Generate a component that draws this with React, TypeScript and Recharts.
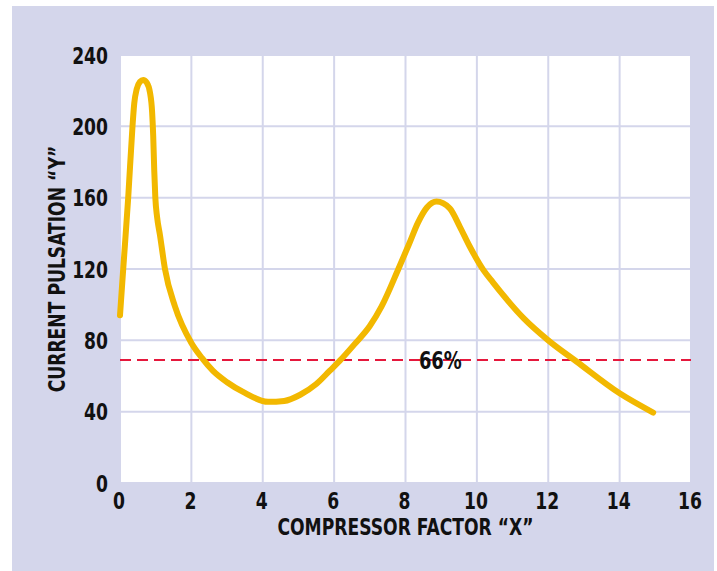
import { LineChart, Line, XAxis, YAxis, CartesianGrid, ReferenceLine, Label } from 'recharts'

const compressorFactor = [
  0, 0.09, 0.23, 0.35, 0.4, 0.47, 0.56, 0.65, 0.75, 0.84, 0.9, 0.93, 0.96, 0.99, 1.04, 1.12, 1.26, 1.54,
  2.0, 2.3, 2.6, 3.0, 3.5, 4.15, 4.6, 5.05, 5.5, 5.88, 6.16, 6.58, 7.0, 7.33, 7.8, 8.1, 8.35, 8.6, 8.87,
  9.24, 9.52, 9.8, 10.18, 10.45, 11.3, 12.0, 12.8, 14.0, 14.94,
]
const currentPulsation = [
  94, 120, 160, 200, 213, 221, 225, 226, 224.5, 219, 208, 195, 175, 160, 149, 139, 120, 99,
  78.5, 70, 63, 56.5, 50.5, 45.5, 46, 49.5, 55.5, 63, 68.6, 78, 88, 99, 120, 134, 146, 154.5, 157.8,
  154, 143.8, 132.6, 119.5, 112.5, 92.6, 80, 68, 50.3, 39.5,
]
const xTicks = [0, 2, 4, 6, 8, 10, 12, 14, 16]
const yTicks = [0, 40, 80, 120, 160, 200, 240]
const thresholdValue = 69
const thresholdLabel = '66%'
const xTitle = 'COMPRESSOR FACTOR “X”'
const yTitle = 'CURRENT PULSATION “Y”'

const data = compressorFactor.map((x, i) => ({ x, y: currentPulsation[i] }))

const FONT = "'DejaVu Sans Condensed', 'DejaVu Sans', sans-serif"
const PANEL = '#d4d6eb'
const GOLD = '#f2b800'
const INK = '#111'
const SQUEEZE = 0.83

// no narrow bold font installed, so squeeze condensed text horizontally
function NarrowText({ x, y, anchor = 'middle', size = 23, rotate = 0, children }: any) {
  return (
    <text
      transform={`translate(${x},${y}) rotate(${rotate}) scale(${SQUEEZE},1)`}
      textAnchor={anchor}
      fontFamily={FONT}
      fontWeight={700}
      fontSize={size}
      fill={INK}
    >
      {children}
    </text>
  )
}

const XTick = ({ x, y, payload }: any) => (
  <NarrowText x={x - 1} y={y + 16.5}>
    {payload.value}
  </NarrowText>
)

const YTick = ({ x, y, payload }: any) => (
  <NarrowText x={x} y={y + 8.5} anchor="end">
    {payload.value}
  </NarrowText>
)

export default function App() {
  return (
    <div style={{ position: 'absolute', left: 0, top: 0, width: 717, height: 571, background: '#fff' }}>
      <div style={{ position: 'absolute', left: 12, top: 6, width: 702, height: 565, background: PANEL }} />
      <div style={{ position: 'absolute', left: 0, top: 0 }}>
        <LineChart width={717} height={571} data={data} margin={{ top: 55, right: 26, bottom: 48, left: 60 }}>
          <CartesianGrid fill="#fff" stroke={PANEL} strokeWidth={2} />
          <XAxis
            type="number"
            dataKey="x"
            domain={[0, 16]}
            ticks={xTicks}
            height={40}
            axisLine={false}
            tickLine={false}
            tickSize={0}
            tickMargin={9}
            tick={<XTick />}
          >
            <Label
              content={({ viewBox }: any) => (
                <NarrowText x={viewBox.x + viewBox.width / 2} y={viewBox.y + 52}>
                  {xTitle}
                </NarrowText>
              )}
            />
          </XAxis>
          <YAxis
            type="number"
            domain={[0, 240]}
            ticks={yTicks}
            width={60}
            axisLine={false}
            tickLine={false}
            tickSize={0}
            tickMargin={12}
            tick={<YTick />}
          >
            <Label
              content={({ viewBox }: any) => (
                <NarrowText x={viewBox.x + 5} y={viewBox.y + viewBox.height / 2} rotate={-90}>
                  {yTitle}
                </NarrowText>
              )}
            />
          </YAxis>
          <ReferenceLine y={thresholdValue} stroke="#e5183c" strokeWidth={2} strokeDasharray="11 6">
            <Label
              content={({ viewBox }: any) => (
                <NarrowText x={viewBox.x + viewBox.width * 0.561} y={viewBox.y + 9} size={24}>
                  {thresholdLabel}
                </NarrowText>
              )}
            />
          </ReferenceLine>
          <Line
            type="monotone"
            dataKey="y"
            stroke={GOLD}
            strokeWidth={6}
            strokeLinecap="round"
            strokeLinejoin="round"
            dot={false}
            activeDot={false}
            isAnimationActive={false}
          />
        </LineChart>
      </div>
    </div>
  )
}
